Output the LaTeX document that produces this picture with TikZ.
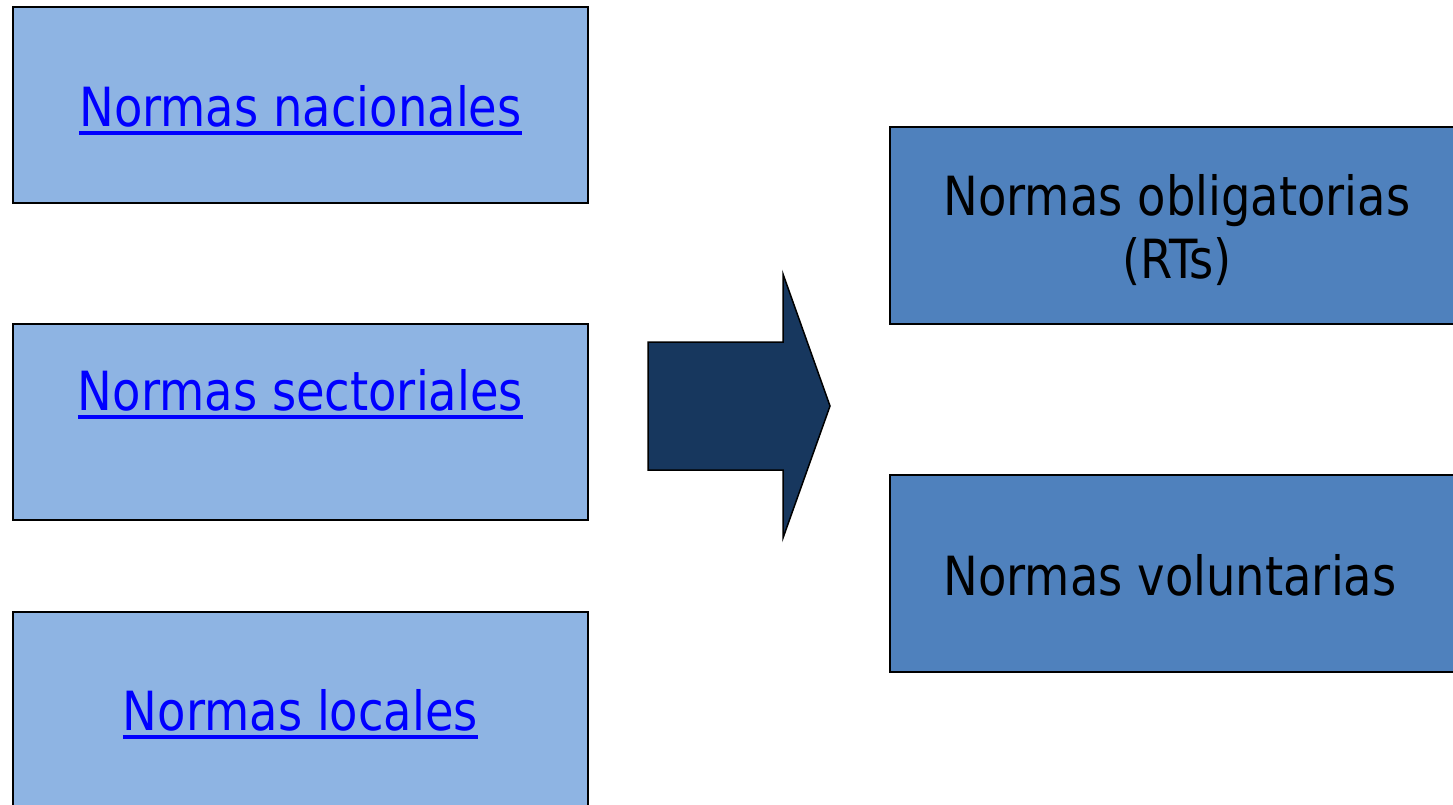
\documentclass[tikz,border=0pt]{standalone}
\usepackage{fontspec}
\setmainfont{DejaVu Sans}[FakeStretch=0.86]
\definecolor{lightbox}{HTML}{8EB4E3}
\definecolor{darkbox}{HTML}{4F81BD}
\definecolor{arrowfill}{HTML}{17375E}
\definecolor{linkblue}{HTML}{0000FF}
\newcommand\ulk[1]{\setbox0\hbox{#1}\rlap{\copy0}\rule[-9pt]{\wd0}{4pt}}
\tikzset{
  lbox/.style={draw=black, line width=1.5pt, fill=lightbox, anchor=north west,
    minimum width=575pt, minimum height=196pt, inner sep=0pt},
  rbox/.style={draw=black, line width=1.5pt, fill=darkbox, anchor=north west,
    minimum width=575pt, minimum height=197pt, inner sep=0pt},
  linktext/.style={anchor=base, inner sep=0pt, text=linkblue,
    font=\fontsize{54}{63}\selectfont},
  plaintext/.style={anchor=base, inner sep=0pt, text=black,
    font=\fontsize{54}{63}\selectfont, align=center},
  bigarrow/.style={draw=black, line width=1.5pt, fill=arrowfill, line join=miter}
}
\begin{document}
\begin{tikzpicture}[x=1pt,y=-1pt]
\useasboundingbox (0,0) rectangle (1453,804);
% left boxes
\node[lbox] (b1) at (12,6) {};
\node[lbox] (b2) at (12,323) {};
\node[lbox] (b3) at (12,611) {};
\node[linktext] (t1) at (300.5,126) {\ulk{Normas nacionales}};
\node[linktext] (t2) at (300.5,410) {\ulk{Normas sectoriales}};
\node[linktext] (t3) at (300.5,730) {\ulk{Normas locales}};
% right boxes
\node[rbox] (r1) at (889,126) {};
\node[rbox] (r2) at (889,474) {};
\node[plaintext] (u1) at (1177,215) {Normas obligatorias};
\node[plaintext] (u2) at (1177,278) {(RTs)};
\node[plaintext] (u3) at (1170,595) {Normas voluntarias};
% arrow
\draw[bigarrow] (648,342) -- (783,342) -- (783,274) -- (830,406) -- (783,538)
  -- (783,470) -- (648,470) -- cycle;
\end{tikzpicture}
\end{document}
